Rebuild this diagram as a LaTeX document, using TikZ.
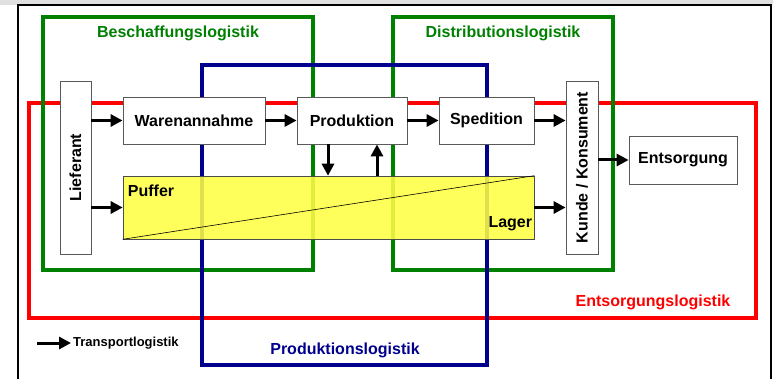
\documentclass[tikz,border=0pt]{standalone}
\usepackage{fontspec}
\setmainfont{Liberation Sans}
\usepackage{tikz}
\usetikzlibrary{calc}
\usetikzlibrary{arrows.meta}

\definecolor{grn}{RGB}{0,128,0}
\definecolor{blu}{RGB}{0,0,140}
\definecolor{rd}{RGB}{255,0,0}
\definecolor{yel}{RGB}{255,255,70}

\tikzset{
  frame/.style={line width=4pt},
  box/.style={draw=black!65,line width=0.8pt,fill=white,inner sep=0pt,
    font=\fontsize{16}{18}\selectfont\bfseries},
  arr/.style={line width=3pt,-{Triangle[length=12pt,width=12pt]}},
  lbl/.style={font=\fontsize{16}{18}\selectfont\bfseries,inner sep=1pt}
}

\begin{document}
\begin{tikzpicture}[x=1pt,y=-1pt]
        \useasboundingbox (0,0) rectangle (773,379);

        % page edge
        \fill[black!12] (0,0) rectangle (773,5);
        \draw[line width=1.2pt] (18,379) -- (18,5) -- (771,5) -- (771,379);

        % Corners of the four areas
        \coordinate (R1) at (29,103);  \coordinate (R2) at (756,318);
        \coordinate (G1) at (43,17);   \coordinate (G2) at (313,270);
        \coordinate (D1) at (393,17);  \coordinate (D2) at (613,270);
        \coordinate (B1) at (202,65);  \coordinate (B2) at (487,365);

        % Draw the areas
        \draw[frame,rd]  (R1) rectangle (R2);
        \draw[frame,grn] (G1) rectangle (G2);
        \draw[frame,grn] (D1) rectangle (D2);
        \draw[frame,blu] (B1) rectangle (B2);

        % Names of the areas
        \node[lbl,text=grn] (beschaff) at (178,33) {Beschaffungslogistik};
        \node[lbl,text=grn] (distrib) at (503,33) {Distributionslogistik};
        \node[lbl,text=blu] (prodlog) at (345,350) {Produktionslogistik};
        \node[lbl,text=rd] (entslog) at (653,302) {Entsorgungslogistik};

        % Boxes
        \node[box,minimum width=31pt,minimum height=173pt] (lief) at (75.5,167.5) {};
        \node[rotate=90,lbl] (lieftxt) at (lief.center) {Lieferant};
        \node[box,minimum width=142pt,minimum height=47pt] (waren) at (194,120.5) {Warenannahme};
        \node[box,minimum width=110pt,minimum height=47pt] (prod) at (352,120.5) {Produktion};
        \node[box,minimum width=95pt,minimum height=47pt] (sped) at (486.5,120.5) {Spedition};
        \node[box,minimum width=32pt,minimum height=173pt] (kunde) at (582,167.5) {};
        \node[rotate=90,lbl] (kundetxt) at (kunde.center) {Kunde / Konsument};
        \node[box,minimum width=108pt,minimum height=48pt] (entsorg) at (683,160) {Entsorgung};

        % Store
        \node[draw=black!70,line width=0.6pt,fill=yel,fill opacity=0.88,
              minimum width=411pt,minimum height=63pt,inner sep=0pt] (lager) at (328.5,207.5) {};
        \draw[line width=0.6pt] (lager.south west) -- (lager.north east);
        \node[lbl,anchor=west] (puffer) at ([xshift=4pt,yshift=-15pt]lager.north west) {Puffer};
        \node[lbl,anchor=east] (lagertxt) at ([xshift=-1pt,yshift=16pt]lager.south east) {Lager};

        % Transport arrows
        \draw[arr] (lief.east |- waren.west) -- (waren.west);
        \draw[arr] (waren) -- (prod);
        \draw[arr] (prod) -- (sped);
        \draw[arr] (sped.east) -- (kunde.west |- sped.east);
        \draw[arr] (lief.east |- lager.west) -- (lager.west);
        \draw[arr] (lager.east) -- (kunde.west |- lager.east);
        \draw[arr] ([xshift=-24pt]prod.south) -- ([xshift=-24pt]prod.south |- lager.north);
        \draw[arr] ([xshift=25pt]prod.south |- lager.north) -- ([xshift=25pt]prod.south);
        \draw[arr] (kunde.east |- entsorg.west) -- (entsorg.west);

        % Legend
        \coordinate (legA) at (37,343);
        \node[anchor=west,inner sep=2pt,font=\fontsize{13}{15}\selectfont\bfseries] (legtxt) at (71,343) {Transportlogistik};
        \draw[arr] (legA) -- (legtxt.west);

      \end{tikzpicture}
\end{document}
